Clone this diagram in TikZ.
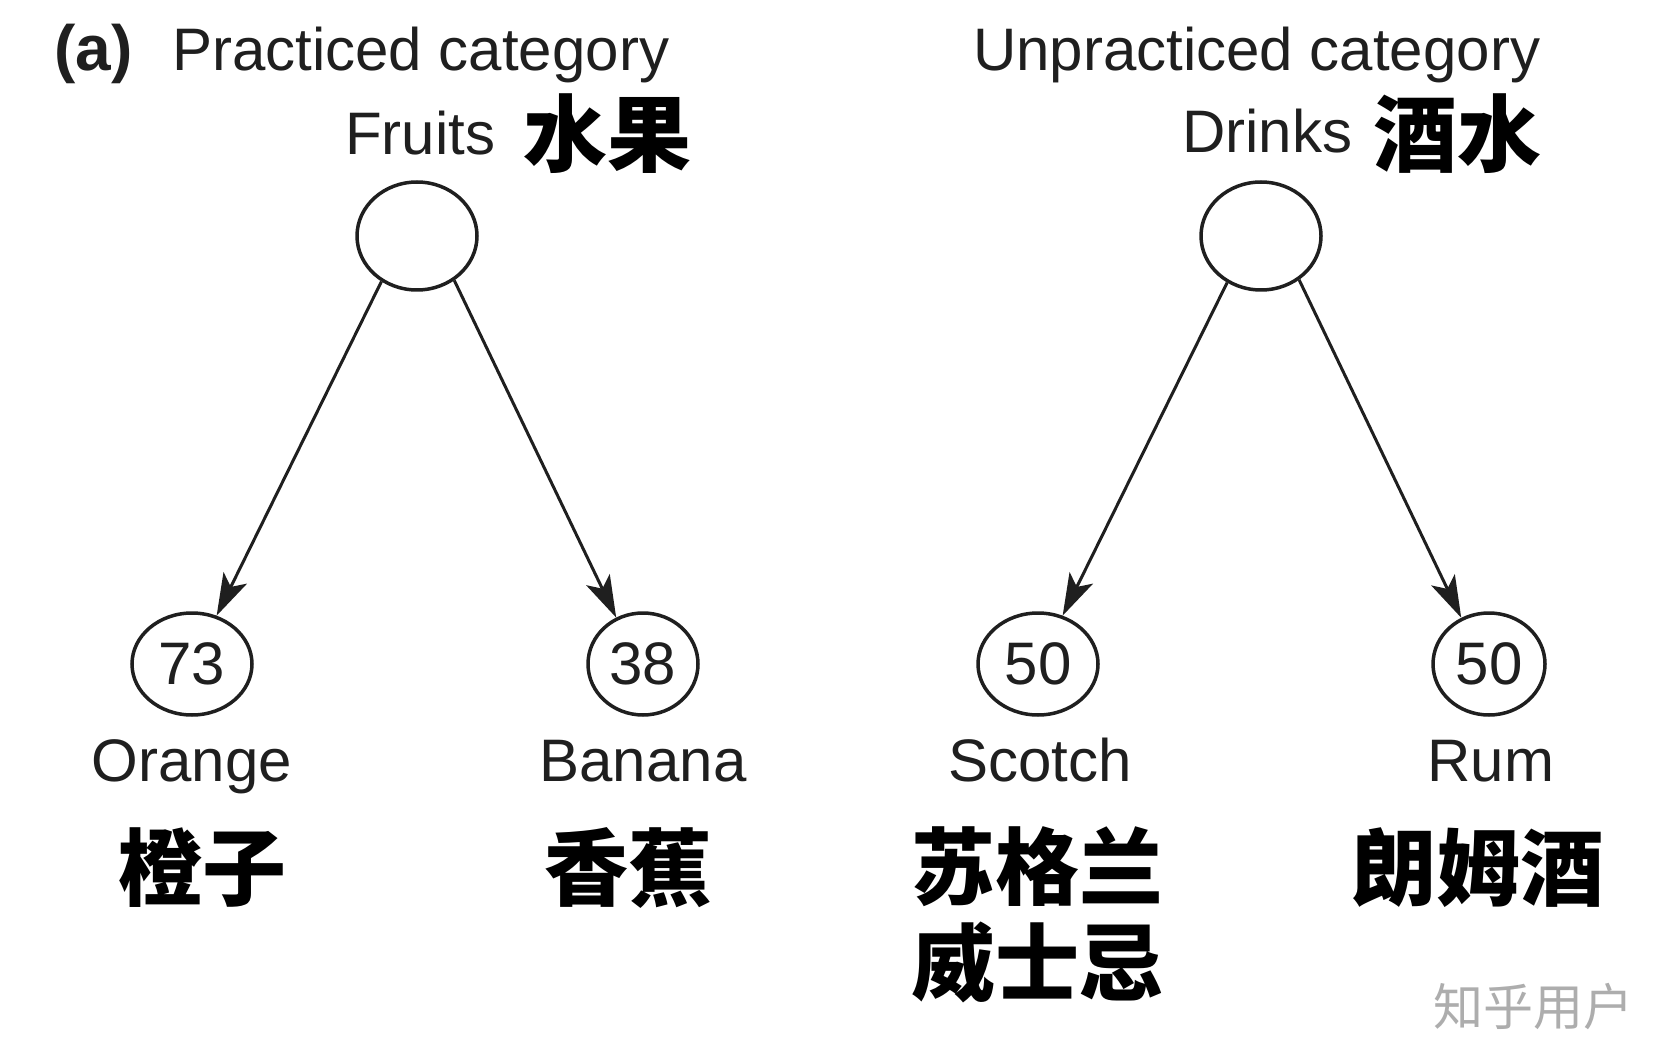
\documentclass[tikz,border=0pt]{standalone}
\usepackage{fontspec}
\setmainfont{Liberation Sans}
\newfontfamily\cjk{Noto Sans CJK SC}
\usetikzlibrary{arrows.meta,shapes.geometric}
\definecolor{ink}{gray}{0.12}
\definecolor{wm}{gray}{0.68}
\begin{document}
\begin{tikzpicture}[x=1pt,y=-1pt,
  lat/.style={font=\fontsize{60}{72}\selectfont, text=ink, inner sep=0pt},
  cjkt/.style={font=\cjk\bfseries\fontsize{84}{96}\selectfont, text=black, inner sep=0pt, align=center},
  topnode/.style={ellipse, draw=ink, line width=3.5pt, minimum width=120pt, minimum height=108pt, inner sep=0pt},
  leaf/.style={ellipse, draw=ink, line width=3.5pt, minimum height=102pt, inner sep=0pt, text=ink, font=\fontsize{60}{62}\selectfont},
  arr/.style={draw=ink, line width=3pt, -{Stealth[length=42pt,width=26pt,inset=10pt]}}]
\useasboundingbox (0,0) rectangle (1678,1064);
\fill[white] (0,0) rectangle (1678,1064);
% headings
\node[lat, anchor=base west, font=\bfseries\fontsize{64}{72}\selectfont] (lab) at (54,71) {(a)};
\node[lat, anchor=base west] (pc) at (172,71) {Practiced category};
\node[lat, anchor=base west] (uc) at (973,71) {Unpracticed category};
\node[lat, anchor=base west] (fr) at (345,155) {Fruits};
\node[lat, anchor=base west] (dr) at (1182,153) {Drinks};
\node[cjkt] (frc) at (607,134) {水果};
\node[cjkt] (drc) at (1457,134) {酒水};
% tree nodes
\node[topnode] (tf) at (417,236) {};
\node[topnode] (td) at (1261,236) {};
\node[leaf, minimum width=120pt] (o) at (192,664) {73};
\node[leaf, minimum width=110pt] (b) at (643,664) {38};
\node[leaf, minimum width=120pt] (s) at (1038,664) {50};
\node[leaf, minimum width=112pt] (r) at (1489,664) {50};
% arrows
\draw[arr] (tf.232) -- (o.63);
\draw[arr] (tf.310) -- (b.120);
\draw[arr] (td.234) -- (s.63);
\draw[arr] (td.311) -- (r.121);
% leaf labels
\node[lat, anchor=base] (ol) at (192,781) {Orange};
\node[lat, anchor=base] (bl) at (643,781) {Banana};
\node[lat, anchor=base] (sl) at (1040,781) {Scotch};
\node[lat, anchor=base] (rl) at (1491,781) {Rum};
\node[cjkt] (oc) at (202,868) {橙子};
\node[cjkt] (bc) at (628,868) {香蕉};
\node[cjkt, anchor=north] (sc) at (1037,826) {苏格兰\\威士忌};
\node[cjkt] (rc) at (1478,868) {朗姆酒};
% watermark
\node[font=\cjk\fontsize{50}{50}\selectfont, text=wm, inner sep=0pt] (wmk) at (1533,1007) {知乎用户};
\end{tikzpicture}
\end{document}
